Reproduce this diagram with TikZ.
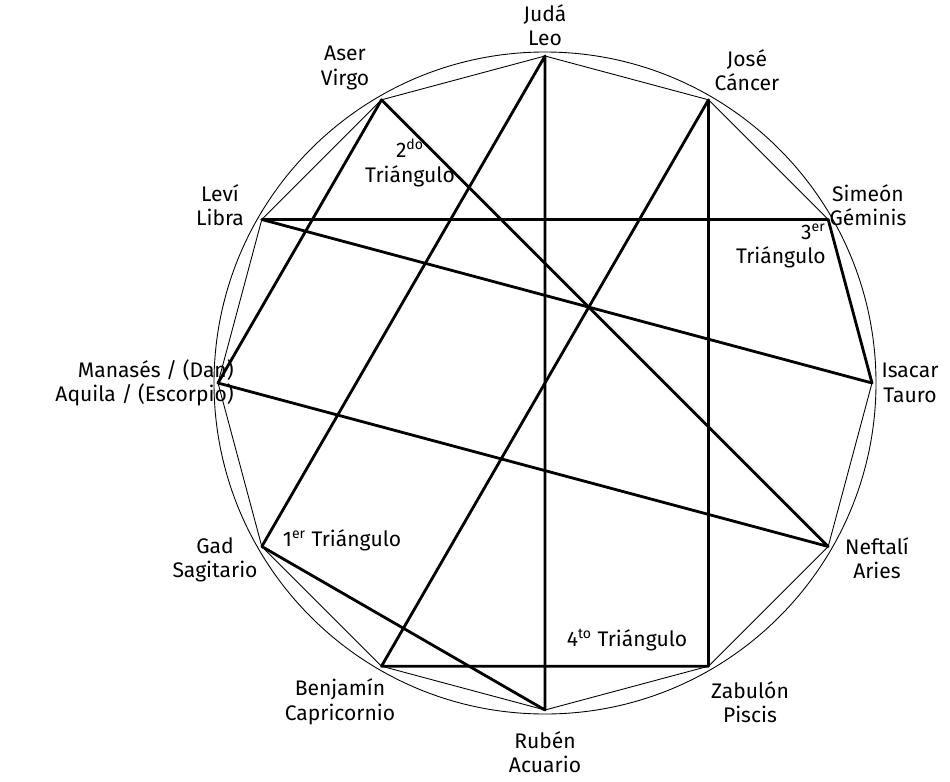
\documentclass[tikz,border=0pt]{standalone}
\usepackage{fontspec}
\setmainfont{Fira Sans}
\usetikzlibrary{positioning, calc}
\begin{document}
\begin{tikzpicture}[x=0.02cm, y=-0.02cm]

  \tikzstyle{edge}=[line width=0.5pt]
  \tikzstyle{side}=[line width=1.6pt, line join=round]
  \tikzstyle{sign}=[align=center, font=\large, inner sep=0pt]
  \tikzstyle{tri}=[align=center, font=\large, inner sep=0pt]

  \useasboundingbox (0,0) rectangle (950,781);

  \coordinate (O) at (545,383);
  \draw [edge] (O) circle (331);

  % vertices, counter-clockwise from the right
  \foreach \name [count=\i from 0] in {isacar,simeon,jose,juda,aser,levi,manases,gad,benjamin,ruben,zabulon,neftali}
    \coordinate (\name) at ($(O)+({\i*30}:327 and -327)$);

  \draw [edge] (isacar) -- (simeon) -- (jose) -- (juda) -- (aser) -- (levi) -- (manases)
    -- (gad) -- (benjamin) -- (ruben) -- (zabulon) -- (neftali) -- cycle;

  \draw [side] (juda) -- (gad) -- (ruben) -- cycle;
  \draw [side] (aser) -- (manases) -- (neftali) -- cycle;
  \draw [side] (levi) -- (simeon) -- (isacar) -- cycle;
  \draw [side] (jose) -- (zabulon) -- (benjamin) -- cycle;

  \node [sign] (l-juda) at (545,25) {Judá\\Leo};
  \node [sign] (l-jose) at (747,70) {José\\Cáncer};
  \node [sign] (l-simeon) at (868,205) {Simeón\\Géminis};
  \node [sign] (l-isacar) at (910,383) {Isacar\\Tauro};
  \node [sign] (l-neftali) at (877,558) {Neftalí\\Aries};
  \node [sign] (l-zabulon) at (750,702) {Zabulón\\Piscis};
  \node [sign] (l-ruben) at (545,752) {Rubén\\Acuario};
  \node [sign] (l-benjamin) at (340,702) {Benjamín\\Capricornio};
  \node [sign] (l-gad) at (215,560) {Gad\\Sagitario};
  \node [sign, anchor=east, align=right] (l-manases) at (234,383) {Manasés / (Dan)\\Aquila / (Escorpio)};
  \node [sign] (l-levi) at (220,205) {Leví\\Libra};
  \node [sign] (l-aser) at (345,68) {Aser\\Virgo};

  \node [tri] (t-1) at (342,540) {1\textsuperscript{er} Triángulo};
  \node [tri] (t-2) at (410,163) {2\textsuperscript{do}\\Triángulo};
  \node [tri, align=right, anchor=east] (t-3) at (826,246) {3\textsuperscript{er}\\Triángulo};
  \node [tri] (t-4) at (627,640) {4\textsuperscript{to} Triángulo};

\end{tikzpicture}
\end{document}
